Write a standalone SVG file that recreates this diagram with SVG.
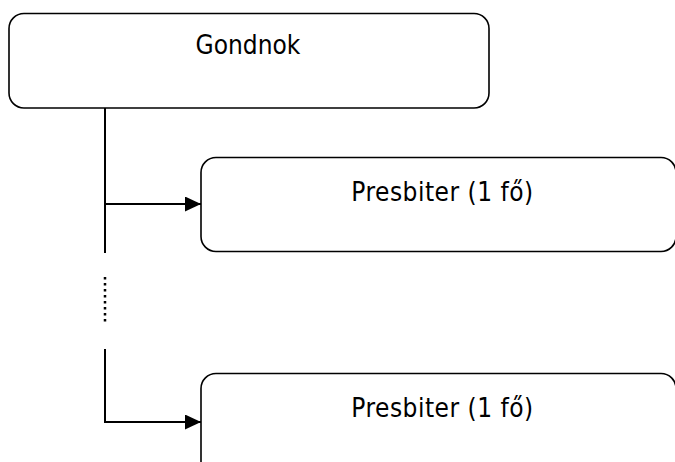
<svg xmlns="http://www.w3.org/2000/svg" width="675" height="462" viewBox="0 0 675 462">
<style>
.box{fill:#fff;stroke:#000;stroke-width:1.6}
.t{font-family:"DejaVu Sans Condensed","DejaVu Sans",Verdana,sans-serif;font-stretch:condensed;font-size:26px;fill:#000;text-anchor:middle}
.p{letter-spacing:0.5px}
.ln{stroke:#000;stroke-width:2;fill:none}
.dot{stroke:#000;stroke-width:2.5;fill:none;stroke-dasharray:2.5 3.5}
</style>
<defs>
<marker id="ah2" viewBox="0 0 16 15" refX="16" refY="7.5" markerWidth="16" markerHeight="15" markerUnits="userSpaceOnUse" orient="auto">
<path d="M0,0 L16,7.5 L0,15 z" fill="#000"/>
</marker>
</defs>
<g id="connectors">
<path class="ln" d="M105,108 V253"/>
<path class="ln" d="M105,204 H201" marker-end="url(#ah2)"/>
<path class="dot" d="M105,277 V322"/>
<path class="ln" d="M105,349 V422 H201" marker-end="url(#ah2)"/>
</g>
<g id="gondnok">
<rect class="box" x="9" y="13.5" width="480" height="94.5" rx="15" ry="15"/>
<text class="t" x="248" y="54">Gondnok</text>
</g>
<g id="presbiter1">
<rect class="box" x="201" y="157.5" width="475" height="94" rx="15" ry="15"/>
<text class="t p" x="442.5" y="200.5">Presbiter (1 fő)</text>
</g>
<g id="presbiter2">
<rect class="box" x="201" y="373.5" width="475" height="110" rx="15" ry="15"/>
<text class="t p" x="442.5" y="416.5">Presbiter (1 fő)</text>
</g>
</svg>
